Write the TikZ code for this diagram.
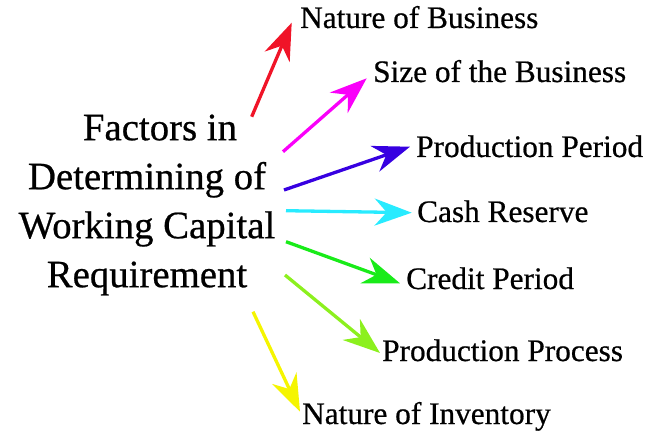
\documentclass[tikz,border=0pt]{standalone}
\usepackage{fontspec}
\setmainfont[FakeBold=0.6]{Liberation Serif}
\usetikzlibrary{arrows.meta}
\definecolor{cRed}{RGB}{240,20,40}
\definecolor{cMag}{RGB}{250,0,250}
\definecolor{cBlue}{RGB}{55,0,225}
\definecolor{cCyan}{RGB}{40,235,255}
\definecolor{cGreen}{RGB}{25,235,25}
\definecolor{cLime}{RGB}{140,240,30}
\definecolor{cYellow}{RGB}{245,245,0}
\tikzset{
  factor/.style={anchor=base west, inner sep=0pt, font=\fontsize{31.3}{36}\selectfont},
  conn/.style={line width=3.3pt, -{Stealth[length=37pt,width=27pt,inset=12pt]}},
}
\begin{document}
\begin{tikzpicture}[x=1pt,y=-1pt]
\useasboundingbox (0,0) rectangle (654,433);
\node[align=center, inner sep=0pt, font=\fontsize{38.8}{49}\selectfont] (main) at (147,205)
  {\hspace*{26pt}Factors in\\Determining of\\Working Capital\\Requirement};
\node[factor] (f1) at (300,28) {Nature of Business};
\node[factor] (f2) at (373,82) {Size of the Business};
\node[factor] (f3) at (416,157) {Production Period};
\node[factor] (f4) at (417,222) {Cash Reserve};
\node[factor] (f5) at (406,289) {Credit Period};
\node[factor] (f6) at (382,361) {Production Process};
\node[factor] (f7) at (302,424) {Nature of Inventory};
\coordinate (s1) at (251.7,116.7); \coordinate (t1) at (291.7,22.7);
\coordinate (s2) at (283,151.7);   \coordinate (t2) at (366.7,78.3);
\coordinate (s3) at (284,190);     \coordinate (t3) at (410,146.7);
\coordinate (s4) at (286,210.7);   \coordinate (t4) at (411.7,212.7);
\coordinate (s5) at (286,241.7);   \coordinate (t5) at (400,283.3);
\coordinate (s6) at (285,275);     \coordinate (t6) at (380,353);
\coordinate (s7) at (253,311.7);   \coordinate (t7) at (300,411.7);
\draw[conn, cRed] (s1) -- (t1);
\draw[conn, cMag] (s2) -- (t2);
\draw[conn, cBlue] (s3) -- (t3);
\draw[conn, cCyan] (s4) -- (t4);
\draw[conn, cGreen] (s5) -- (t5);
\draw[conn, cLime] (s6) -- (t6);
\draw[conn, cYellow] (s7) -- (t7);
\end{tikzpicture}
\end{document}
